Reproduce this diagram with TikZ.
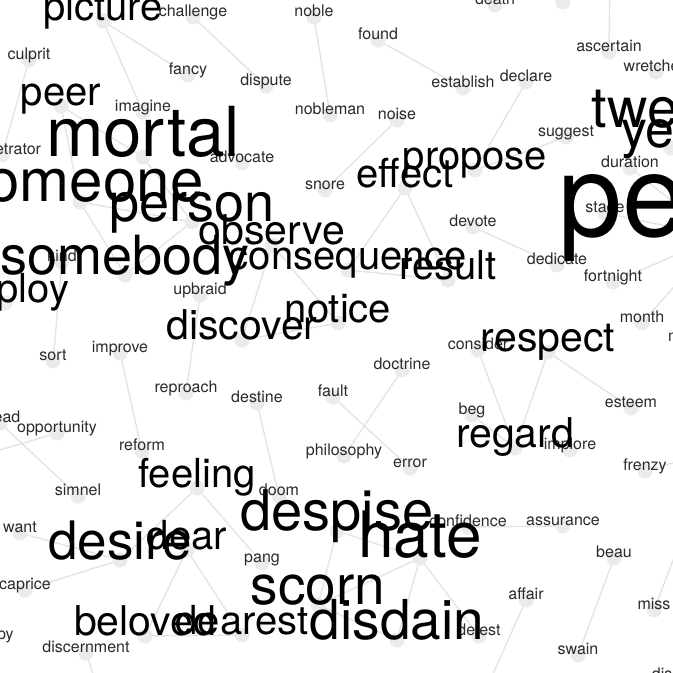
\documentclass[tikz,border=0pt]{standalone}
\usepackage{fontspec}
\setmainfont{TeX Gyre Heros}
\usetikzlibrary{backgrounds}
\definecolor{dotgray}{HTML}{EBEBEB}
\definecolor{linkgray}{HTML}{E4E4E4}
\definecolor{inkgray}{HTML}{2A2A2A}
\pgfdeclarelayer{dots}
\pgfsetlayers{background,dots,main}

% small words: name/x/y
\newcommand\smallwords{challenge/193/17, noble/314/17, found/378/40, culprit/29/60,
  fancy/188/75, dispute/266/86, establish/463/88, declare/526/82, ascertain/609/52,
  wretched/656/72, imagine/143/112, nobleman/330/115, noise/397/120, suggest/566/137,
  perpetrator/2/155, advocate/242/163, duration/630/168, snore/325/190, stage/605/213,
  devote/473/227, kind/62/262, dedicate/557/265, fortnight/613/282, upbraid/200/295,
  month/642/323, minute/692/342, consider/478/350, improve/120/353, sort/53/361,
  doctrine/402/370, reproach/186/393, fault/333/397, destine/257/403, esteem/631/408,
  beg/472/415, dread/0/423, opportunity/57/433, reform/142/451, implore/570/450,
  philosophy/344/456, error/410/468, frenzy/645/471, simnel/78/496, doom/279/496,
  confidence/468/527, assurance/563/526, want/20/533, beau/614/558, pang/262/563,
  caprice/25/590, affair/526/600, miss/654/610, happy/-8/640, detest/479/636,
  discernment/86/653, swain/578/655, death/495/5, dislike/674/680}
% large words: name/x/y/size
\newcommand\largewords{picture/103/21/40, peer/61/106/40, mortal/143/157/69,
  someone/80/202/60, person/192/222/54, observe/272/245/41, somebody/125/275/54,
  employ/5/303/40, consequence/348/270/40, effect/405/188/40, propose/475/170/40,
  result/448/280/40, notice/338/323/40, discover/242/340/41, respect/548/352/41,
  regard/515/448/41, feeling/197/488/40, desire/120/560/53, dear/187/550/40,
  beloved/145/636/41, dearest/242/635/40, despise/337/531/56, hate/420/558/64,
  scorn/318/605/55, disdain/397/640/55, period/718/237/115,
  twelvemonth/748/128/56, year/671/148/52}

\begin{document}
\begin{tikzpicture}[x=1pt, y=-1pt,
  dot/.style={circle, fill=dotgray, minimum size=15pt, inner sep=0pt},
  link/.style={draw=linkgray, line width=1.4pt},
  word/.style={anchor=base, inner sep=0pt, yshift=1pt, font=\fontsize{#1}{#1}\selectfont}]
  \useasboundingbox (0,0) rectangle (673,673);
  \clip (0,0) rectangle (673,673);

  \foreach \w/\x/\y in \smallwords {
    \begin{pgfonlayer}{dots}
      \node[dot] (\w) at (\x,\y) {};
    \end{pgfonlayer}
    \node[word=16, text=inkgray] (\w-t) at (\w.center) {\w};
  }
  \foreach \w/\x/\y/\s in \largewords {
    \begin{pgfonlayer}{dots}
      \node[dot] (\w) at (\x,\y) {};
    \end{pgfonlayer}
    \node[word=\s] (\w-t) at (\w.center) {\w};
  }
  \begin{pgfonlayer}{dots}
    \node[dot] (topdot) at (563,2) {};
  \end{pgfonlayer}

  % loose ends leaving the picture
  \coordinate (offtop) at (610,-30);
  \coordinate (offleft) at (-30,459);
  \coordinate (offdown1) at (96,683);
  \coordinate (offdown2) at (489,683);
  \coordinate (offright1) at (695,503);
  \coordinate (offright2) at (700,455);

  \begin{scope}[on background layer]
    \foreach \a/\b in {picture/fancy, picture/imagine, culprit/perpetrator,
      challenge/dispute, noble/nobleman, found/establish, noise/snore,
      declare/propose, propose/suggest, effect/consequence, effect/result,
      consequence/result, devote/dedicate, duration/period, stage/period,
      fortnight/period, month/period, ascertain/offtop, respect/regard,
      consider/regard, respect/esteem, beg/regard, fault/error,
      doctrine/philosophy, destine/doom, upbraid/reproach, improve/reform,
      kind/sort, observe/discover, observe/notice, notice/discover,
      peer/mortal, peer/someone, someone/person, mortal/person,
      somebody/person, somebody/someone, desire/want, desire/caprice,
      desire/feeling, feeling/pang, dear/beloved, dear/dearest,
      beloved/dearest, dread/simnel, opportunity/offleft,
      discernment/offdown1, despise/scorn, despise/hate, hate/scorn,
      scorn/disdain, hate/disdain, hate/detest, confidence/assurance,
      beau/swain, affair/offdown2, miss/offright1, frenzy/offright2}
      \draw[link] (\a.center) -- (\b.center);
  \end{scope}
\end{tikzpicture}
\end{document}
